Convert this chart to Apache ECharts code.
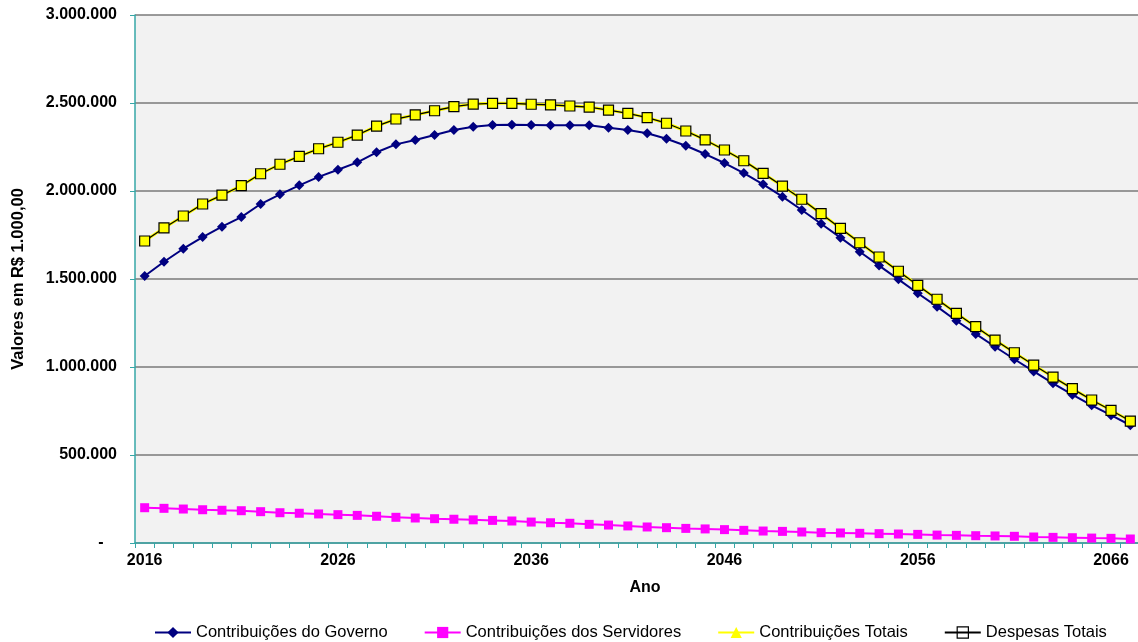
<!DOCTYPE html>
<html>
<head>
<meta charset="utf-8">
<script src="https://cdn.jsdelivr.net/npm/echarts@6/dist/echarts.min.js"></script>
<style>
html,body{margin:0;padding:0;background:#fff;}
#chart{width:1138px;height:642px;}
</style>
</head>
<body>
<div id="chart"></div>
<script>
const years = [];
for (let y = 2016; y <= 2067; y++) years.push(String(y));

const yTicks = [0, 500000, 1000000, 1500000, 2000000, 2500000, 3000000];

const contribGoverno = [
  1517000, 1598000, 1672000, 1738000, 1797000, 1852000, 1926000, 1981000, 2032000, 2080000,
  2121000, 2163000, 2220000, 2265000, 2290000, 2318000, 2347000, 2365000, 2375000, 2376000,
  2375000, 2374000, 2374000, 2373000, 2360000, 2347000, 2328000, 2297000, 2257000, 2210000,
  2159000, 2102000, 2038000, 1968000, 1892000, 1814000, 1735000, 1655000, 1576000, 1498000,
  1419000, 1343000, 1263000, 1188000, 1115000, 1044000, 975000, 907000, 843000, 782000,
  726000, 669000
];

const contribServidores = [
  200500, 197000, 193000, 189000, 186000, 183500, 178000, 172000, 169000, 165000,
  161000, 157000, 152000, 146000, 142000, 138000, 135000, 131500, 128500, 125000,
  119000, 115000, 112000, 106000, 102000, 97000, 91000, 87000, 83000, 80000,
  76000, 72000, 68000, 66000, 62500, 58700, 57000, 55000, 53000, 51000,
  49000, 45000, 43500, 41500, 40000, 38000, 34000, 32000, 30000, 28000,
  26500, 22700
];

const contribTotais = [
  1716000, 1790000, 1858000, 1926000, 1977000, 2030000, 2098000, 2152000, 2197000, 2240000,
  2277000, 2318000, 2369000, 2409000, 2432000, 2456000, 2479000, 2494000, 2498000, 2498000,
  2493000, 2489000, 2483000, 2477000, 2460000, 2441000, 2417000, 2385000, 2341000, 2290000,
  2233000, 2172000, 2100000, 2028000, 1953000, 1871000, 1788000, 1706000, 1625000, 1544000,
  1464000, 1385000, 1305000, 1229000, 1153000, 1081000, 1011000, 943000, 877000, 812500,
  754000, 693000
];

const despesasTotais = [
  1716000, 1790000, 1858000, 1926000, 1977000, 2030000, 2098000, 2152000, 2197000, 2240000,
  2277000, 2318000, 2369000, 2409000, 2432000, 2456000, 2479000, 2494000, 2498000, 2498000,
  2493000, 2489000, 2483000, 2477000, 2460000, 2441000, 2417000, 2385000, 2341000, 2290000,
  2233000, 2172000, 2100000, 2028000, 1953000, 1871000, 1788000, 1706000, 1625000, 1544000,
  1464000, 1385000, 1305000, 1229000, 1153000, 1081000, 1011000, 943000, 877000, 812500,
  754000, 693000
];

const seriesNames = ['Contribuições do Governo', 'Contribuições dos Servidores', 'Contribuições Totais', 'Despesas Totais'];

function fmt(v) {
  if (v === 0) return '-   ';
  return String(Math.round(v)).replace(/\B(?=(\d{3})+(?!\d))/g, '.');
}

const FONT = '"Liberation Sans", Arial, sans-serif';
const AXIS_COLOR = '#36a7a7';

const chart = echarts.init(document.getElementById('chart'), null, {renderer: 'canvas'});
chart.setOption({
  animation: false,
  backgroundColor: '#ffffff',
  grid: {
    left: 135, top: 15, width: 1005, height: 528,
    outerBoundsMode: 'none',
    containLabel: false,
    show: true, backgroundColor: '#f2f2f2', borderWidth: 0
  },
  legend: {
    left: 149, top: 619,
    itemWidth: 36, itemHeight: 14, itemGap: 36,
    textStyle: {fontFamily: FONT, fontSize: 16.5, color: '#000'},
    data: [
      {name: seriesNames[0]},
      {name: seriesNames[1]},
      {name: seriesNames[2]},
      {name: seriesNames[3], itemStyle: {color: 'rgba(255,255,255,0)', borderColor: '#000', borderWidth: 1.2}}
    ]
  },
  xAxis: {
    type: 'category',
    data: years,
    boundaryGap: true,
    name: 'Ano',
    nameLocation: 'middle',
    nameGap: 37,
    nameTextStyle: {fontFamily: FONT, fontSize: 16, fontWeight: 'bold', color: '#000', padding: [0, 0, 0, 15]},
    axisLine: {lineStyle: {color: AXIS_COLOR, width: 1.5}},
    axisTick: {show: true, interval: 0, length: 5, lineStyle: {color: AXIS_COLOR}},
    axisLabel: {interval: 9, margin: 10, fontFamily: FONT, fontSize: 16, fontWeight: 'bold', color: '#000'},
    splitLine: {show: false}
  },
  yAxis: {
    type: 'value',
    min: 0, max: 3000000, interval: 500000,
    name: 'Valores em R$ 1.000,00',
    nameLocation: 'middle',
    nameGap: 117,
    nameRotate: 90,
    nameTextStyle: {fontFamily: FONT, fontSize: 16.5, fontWeight: 'bold', color: '#000', verticalAlign: 'middle'},
    axisLine: {show: true, lineStyle: {color: AXIS_COLOR, width: 1.5}},
    axisTick: {show: true, length: 5, lineStyle: {color: AXIS_COLOR}},
    axisLabel: {margin: 18, fontFamily: FONT, fontSize: 16, fontWeight: 'bold', color: '#000', formatter: fmt},
    splitLine: {show: true, lineStyle: {color: '#7a7a7a', width: 1.5}}
  },
  series: [
    {
      name: seriesNames[0], type: 'line', data: contribGoverno,
      symbol: 'diamond', symbolSize: 10,
      lineStyle: {color: '#000080', width: 2},
      itemStyle: {color: '#000080'}
    },
    {
      name: seriesNames[1], type: 'line', data: contribServidores,
      symbol: 'rect', symbolSize: 9,
      lineStyle: {color: '#ff00ff', width: 2},
      itemStyle: {color: '#ff00ff'}
    },
    {
      name: seriesNames[2], type: 'line', data: contribTotais,
      symbol: 'triangle', symbolSize: 9,
      lineStyle: {color: '#ffff00', width: 3},
      itemStyle: {color: '#ffff00'}
    },
    {
      name: seriesNames[3], type: 'line', data: despesasTotais,
      symbol: 'rect', symbolSize: 10,
      lineStyle: {color: '#000000', width: 1.3},
      itemStyle: {color: '#ffff00', borderColor: '#000000', borderWidth: 1.2}
    }
  ]
});
</script>
</body>
</html>
